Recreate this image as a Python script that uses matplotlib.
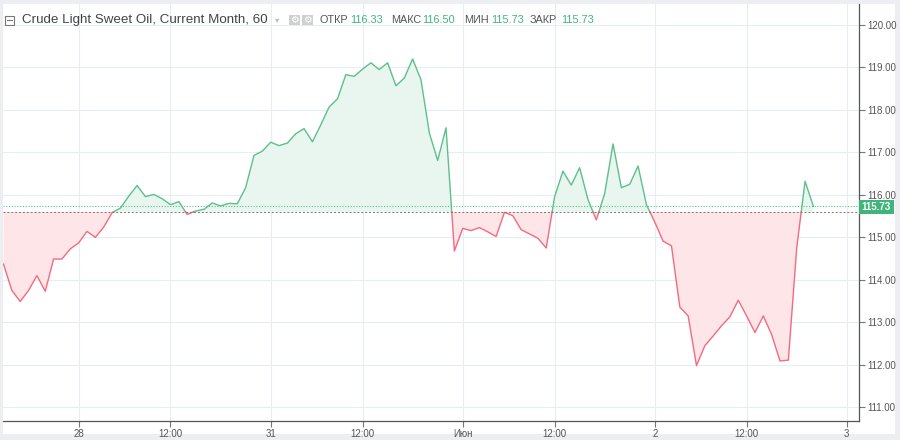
import numpy as np
import matplotlib
matplotlib.use('Agg')
import matplotlib.pyplot as plt
from matplotlib.patches import Rectangle

plt.rcParams['font.family'] = ['Liberation Sans', 'DejaVu Sans']

# hourly closes, 28 May - 2 Jun
prices = [
    114.37, 113.75, 113.49, 113.75, 114.10, 113.73, 114.49, 114.49, 114.73, 114.87,
    115.14, 115.00, 115.24, 115.58, 115.69, 115.97, 116.22, 115.96, 116.01, 115.91,
    115.77, 115.84, 115.54, 115.62, 115.66, 115.81, 115.74, 115.80, 115.79, 116.17,
    116.93, 117.03, 117.24, 117.16, 117.22, 117.44, 117.56, 117.25, 117.65, 118.07,
    118.26, 118.83, 118.79, 118.96, 119.11, 118.95, 119.11, 118.57, 118.75, 119.20,
    118.71, 117.46, 116.81, 117.58, 114.68, 115.21, 115.16, 115.23, 115.13, 115.02,
    115.59, 115.51, 115.18, 115.08, 114.98, 114.75, 115.95, 116.56, 116.23, 116.64,
    115.89, 115.41, 116.03, 117.20, 116.17, 116.25, 116.68, 115.77, 115.36, 114.91,
    114.80, 113.36, 113.15, 111.98, 112.45, 112.68, 112.92, 113.13, 113.52, 113.15,
    112.76, 113.15, 112.71, 112.09, 112.11, 114.75, 116.32, 115.73,
]
base_price = 115.60
last_price = 115.73
tick_pos = [9, 20, 32, 43, 55, 66, 78, 89, 101]
tick_labels = ['28', '12:00', '31', '12:00', 'Июн', '12:00', '2', '12:00', '3']
y_ticks = [111, 112, 113, 114, 115, 116, 117, 118, 119, 120]
ohlc_names = ['ОТКР', 'МАКС', 'МИН', 'ЗАКР']
ohlc_values = [116.33, 116.50, 115.73, 115.73]

UP_LINE, UP_FILL = '#5cc08c', '#e9f6ef'
DN_LINE, DN_FILL = '#f26b7f', '#fde5e8'
GRID = '#e6edf3'
TXT = '#555555'

W, H = 900, 440
fig = plt.figure(figsize=(9, 4.4), dpi=100, facecolor='#eceef1')
fig.patches.append(Rectangle((3 / W, 1 - 434 / H), 892 / W, 430 / H,
                             transform=fig.transFigure, facecolor='white',
                             edgecolor='none', zorder=-10))
ax = fig.add_axes([3 / W, 1 - 421 / H, 856 / W, 417 / H])
ax.set_facecolor('white')

# split the series at the baseline crossings
y = np.array(prices)
xs, ys = [], []
for i in range(len(y) - 1):
    xs.append(i)
    ys.append(y[i])
    if (y[i] - base_price) * (y[i + 1] - base_price) < 0:
        t = (base_price - y[i]) / (y[i + 1] - y[i])
        xs.append(i + t)
        ys.append(base_price)
xs.append(len(y) - 1)
ys.append(y[-1])
xs, ys = np.array(xs), np.array(ys)

ax.fill_between(xs, ys, base_price, where=ys >= base_price, color=UP_FILL,
                interpolate=True, lw=0, zorder=2)
ax.fill_between(xs, ys, base_price, where=ys <= base_price, color=DN_FILL,
                interpolate=True, lw=0, zorder=2)
ax.plot(xs, np.where(ys >= base_price, ys, np.nan), color=UP_LINE, lw=1.0, zorder=3)
ax.plot(xs, np.where(ys <= base_price, ys, np.nan), color=DN_LINE, lw=1.0, zorder=3)

ax.axhline(last_price, color=UP_LINE, lw=0.8, ls=(0, (1, 1.5)), zorder=4)
ax.axhline(base_price, color='#777777', lw=0.7, ls=(0, (2, 2)), zorder=4)

ax.set_xlim(-0.06, 102.46)
ax.set_ylim(110.677, 120.494)
ax.set_xticks(tick_pos)
ax.set_xticklabels(tick_labels)
ax.set_yticks(y_ticks)
ax.set_yticklabels([f'{v:.2f}' for v in y_ticks])
ax.yaxis.tick_right()
ax.grid(True, color=GRID, lw=0.8, zorder=0)
ax.set_axisbelow(True)
for s in ['left', 'top']:
    ax.spines[s].set_visible(False)
for s in ['right', 'bottom']:
    ax.spines[s].set_color('#555555')
    ax.spines[s].set_linewidth(0.9)
ax.tick_params(axis='both', colors='#777777', labelcolor=TXT, labelsize=7,
               length=4, width=0.8, pad=2)

# last price tag
fig.patches.append(Rectangle((859 / W, 1 - 214 / H), 35 / W, 14 / H,
                             transform=fig.transFigure, facecolor='#3fb47b',
                             edgecolor='none', zorder=5))
fig.text(876 / W, 1 - 207 / H, f'{last_price:.2f}', color='white', fontsize=7,
         fontweight='bold', ha='center', va='center', zorder=6)

# header
fig.patches.append(Rectangle((5 / W, 1 - 25 / H), 9 / W, 9 / H,
                             transform=fig.transFigure, facecolor='white',
                             edgecolor='#777777', lw=0.8, zorder=5))
fig.lines.append(plt.Line2D([7 / W, 12 / W], [1 - 20.5 / H, 1 - 20.5 / H],
                            transform=fig.transFigure, color='#777777', lw=0.8, zorder=6))
fig.text(22 / W, 1 - 20 / H, 'Crude Light Sweet Oil, Current Month, 60',
         color='#444444', fontsize=9.6, ha='left', va='center', zorder=6)
fig.text(277 / W, 1 - 20 / H, '▾', color='#bbbbbb', fontsize=6,
         ha='center', va='center', zorder=6, family='DejaVu Sans')
for gx in [289, 302]:
    fig.patches.append(Rectangle((gx / W, 1 - 25 / H), 11 / W, 10 / H,
                                 transform=fig.transFigure, facecolor='#d0d0d0',
                                 edgecolor='none', zorder=5))
    fig.text((gx + 5.5) / W, 1 - 20 / H, '⚙', color='white', fontsize=7,
             ha='center', va='center', zorder=6, family='DejaVu Sans')

label_x = [319, 391, 464, 530]
value_x = [350, 422, 491, 561]
for name, val, lx, vx in zip(ohlc_names, ohlc_values, label_x, value_x):
    fig.text(lx / W, 1 - 20 / H, name, color=TXT, fontsize=7.8,
             ha='left', va='center', zorder=6)
    fig.text(vx / W, 1 - 20 / H, f'{val:.2f}', color='#3fb47b', fontsize=7.8,
             ha='left', va='center', zorder=6)

fig.savefig('out.png', dpi=100, facecolor=fig.get_facecolor())
